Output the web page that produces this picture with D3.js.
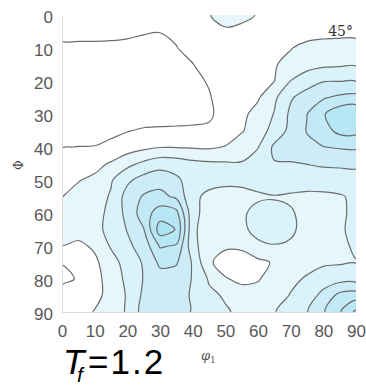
<!DOCTYPE html>
<html>
<head>
<meta charset="utf-8">
<script src="https://cdn.jsdelivr.net/npm/d3@7"></script>
<style>
  body { margin: 0; background: #ffffff; }
  svg { display: block; }
</style>
</head>
<body>
<svg id="chart" width="366" height="387"></svg>
<script>
// Sample grid of the ODF section (phi2 = 45°)
const phi1Grid = [0, 5, 10, 15, 20, 25, 30, 35, 40, 45, 50, 55, 60, 65, 70, 75, 80, 85, 90];
const PhiGrid  = [0, 5, 10, 15, 20, 25, 30, 35, 40, 45, 50, 55, 60, 65, 70, 75, 80, 85, 90];

// f(g) intensity, one row per Phi value, columns follow phi1Grid
const odfRows = [
  [1.3, 1.3, 1.3, 1.3, 1.25, 1.18, 1.15, 1.2, 1.5, 1.95, 2.4, 2.2, 1.95, 1.7, 1.6, 1.5, 1.5, 1.5, 1.5],
  [1.15, 1.15, 1.15, 1.15, 1.12, 1.05, 1.02, 1.1, 1.35, 1.75, 1.85, 1.8, 1.7, 1.65, 1.6, 1.7, 1.75, 1.75, 1.75],
  [0.9, 0.9, 0.9, 0.88, 0.85, 0.8, 0.75, 0.98, 1.2, 1.55, 1.7, 1.75, 1.75, 1.8, 1.97, 2.2, 2.3, 2.35, 2.35],
  [0.6, 0.6, 0.6, 0.6, 0.6, 0.6, 0.6, 0.8, 0.98, 1.3, 1.55, 1.7, 1.8, 1.95, 2.2, 2.6, 2.8, 2.85, 2.9],
  [0.5, 0.5, 0.5, 0.5, 0.5, 0.5, 0.5, 0.7, 0.85, 1.05, 1.4, 1.6, 1.8, 1.98, 3.02, 3.6, 3.95, 3.97, 3.97],
  [0.5, 0.5, 0.5, 0.5, 0.5, 0.5, 0.5, 0.6, 0.75, 0.95, 1.3, 1.6, 1.9, 2.8, 3.9, 4.4, 4.9, 5.2, 5.3],
  [0.5, 0.5, 0.5, 0.5, 0.5, 0.5, 0.5, 0.6, 0.7, 0.9, 1.25, 1.8, 2.3, 3.05, 4.2, 4.98, 5.9, 6.7, 6.9],
  [0.7, 0.7, 0.75, 0.8, 0.95, 1.1, 1.15, 1.15, 1.15, 1.1, 1.4, 1.9, 2.6, 3.3, 4.3, 5.05, 5.6, 6.3, 6.3],
  [0.98, 1.01, 1.02, 1.2, 1.5, 1.75, 1.95, 1.95, 1.9, 1.85, 2.05, 2.6, 2.95, 4.2, 4.4, 4.8, 4.98, 5.1, 5.15],
  [1.3, 1.45, 1.7, 2.1, 2.7, 3.2, 3.6, 3.5, 3.25, 3.15, 3.1, 3.05, 3.5, 3.95, 3.95, 4.02, 4.1, 4.15, 4.2],
  [1.65, 1.95, 2.2, 2.9, 3.8, 4.4, 4.6, 4.2, 3.5, 3.3, 3.2, 3.2, 3.4, 3.6, 3.6, 3.65, 3.65, 3.6, 3.6],
  [1.98, 2.3, 2.55, 3.1, 4.4, 5.1, 5.3, 4.8, 3.2, 2.8, 2.7, 2.75, 2.85, 2.95, 2.85, 2.7, 2.75, 2.9, 3.2],
  [2.3, 2.45, 2.65, 3.25, 4.3, 5.5, 6.5, 6.3, 3.3, 2.6, 2.4, 2.85, 3.3, 3.2, 3.1, 2.7, 2.6, 2.85, 3.2],
  [2.35, 2.4, 2.7, 3.3, 4.05, 4.95, 7.5, 6.95, 3.2, 2.5, 2.3, 2.8, 3.3, 3.25, 3.1, 2.8, 2.7, 2.9, 3.2],
  [1.98, 1.8, 2.15, 3.1, 3.8, 4.4, 6.1, 5.9, 3.3, 2.4, 2.1, 2.15, 2.8, 2.97, 2.92, 2.7, 2.65, 2.85, 3.1],
  [1.02, 1.3, 1.8, 2.6, 3.4, 4.1, 5.2, 5.1, 3.9, 2.1, 1.7, 1.6, 1.75, 2.1, 2.5, 2.7, 2.85, 2.9, 2.97],
  [0.85, 1.05, 1.6, 2.5, 3.2, 4.05, 4.6, 4.5, 3.95, 2.9, 2.05, 1.85, 1.95, 2.3, 2.8, 3.1, 3.5, 3.65, 3.6],
  [1.3, 1.4, 1.75, 2.3, 3.1, 4.2, 4.4, 4.35, 3.9, 3.2, 2.9, 2.3, 2.25, 2.6, 3.05, 3.5, 4.3, 5.3, 5.5],
  [1.5, 1.6, 2.05, 2.5, 3.1, 4.4, 4.5, 4.3, 3.95, 3.5, 3.1, 2.8, 2.6, 2.95, 3.4, 3.95, 4.9, 5.9, 7.2]
];

// Contour levels; bandFills[i] fills the area at or above contourLevels[i]
const contourLevels = [1, 2, 3, 4, 5, 6, 7];
const baseFill = "#ffffff";
const bandFills = ["#ffffff", "#e6f7fc", "#daf3fb", "#ccedf8", "#c1eaf6", "#b7e6f4", "#ade2f2"];

const phi1Ticks = [0, 10, 20, 30, 40, 50, 60, 70, 80, 90];
const PhiTicks  = [0, 10, 20, 30, 40, 50, 60, 70, 80, 90];

const svg = d3.select("#chart");
const plotL = 62, plotR = 356, plotT = 15, plotB = 312;

const x = d3.scaleLinear().domain([0, 90]).range([plotL, plotR]);
const y = d3.scaleLinear().domain([0, 90]).range([plotT, plotB]);

const nx = phi1Grid.length, ny = PhiGrid.length;
// d3.contours places sample k at grid coordinate k + 0.5
const gx = d3.scaleLinear().domain([0.5, nx - 0.5]).range([x(phi1Grid[0]), x(phi1Grid[nx - 1])]);
const gy = d3.scaleLinear().domain([0.5, ny - 0.5]).range([y(PhiGrid[0]), y(PhiGrid[ny - 1])]);

const contours = d3.contours()
  .size([nx, ny])
  .thresholds(contourLevels)(odfRows.flat());

const ringLine = d3.line().curve(d3.curveCatmullRomClosed.alpha(0.5));
function contourPath(mp) {
  let d = "";
  for (const poly of mp.coordinates) {
    for (const ring of poly) {
      const pts = ring.slice(0, -1).map(p => [gx(p[0]), gy(p[1])]);
      if (pts.length > 2) d += ringLine(pts);
    }
  }
  return d;
}

svg.append("defs").append("clipPath").attr("id", "plotClip")
  .append("rect").attr("x", plotL).attr("y", plotT)
  .attr("width", plotR - plotL).attr("height", plotB - plotT);

const plot = svg.append("g").attr("clip-path", "url(#plotClip)");
plot.append("rect").attr("x", plotL).attr("y", plotT)
  .attr("width", plotR - plotL).attr("height", plotB - plotT).attr("fill", baseFill);

plot.selectAll("path.band")
  .data(contours)
  .join("path")
  .attr("class", "band")
  .attr("d", c => contourPath(c))
  .attr("fill", (c, i) => bandFills[i])
  .attr("fill-rule", "evenodd");

plot.selectAll("path.iso")
  .data(contours)
  .join("path")
  .attr("class", "iso")
  .attr("d", c => contourPath(c))
  .attr("fill", "none")
  .attr("stroke", "#6c6c6c")
  .attr("stroke-width", 1.2)
  .attr("stroke-linejoin", "round");

// Axes
const tickFont = "'Liberation Sans', Arial, sans-serif";
const yAxis = svg.append("g").attr("transform", `translate(${plotL},0)`)
  .call(d3.axisLeft(y).tickValues(PhiTicks).tickSize(0).tickSizeOuter(0).tickPadding(9));
const xAxis = svg.append("g").attr("transform", `translate(0,${plotB})`)
  .call(d3.axisBottom(x).tickValues(phi1Ticks).tickSize(0).tickSizeOuter(0).tickPadding(13));

[yAxis, xAxis].forEach(a => {
  a.select(".domain").attr("stroke", "#dcdcdc").attr("stroke-width", 1);
  a.selectAll("text").attr("font-family", tickFont).attr("font-size", 17).attr("fill", "#585858");
});
yAxis.selectAll("text").attr("dy", "0.42em");

// Axis titles
svg.append("text")
  .attr("transform", "translate(23,165) rotate(-90)")
  .attr("text-anchor", "middle")
  .attr("font-family", "'DejaVu Serif', serif").attr("font-size", 12).attr("fill", "#444")
  .text("Φ");

const xt = svg.append("text")
  .attr("x", 201).attr("y", 360)
  .attr("font-family", "'DejaVu Serif', serif").attr("font-size", 13).attr("fill", "#555");
xt.append("tspan").attr("font-style", "italic").text("φ");
xt.append("tspan").attr("font-size", 9).attr("dy", 3).text("1");

svg.append("text")
  .attr("x", 353).attr("y", 36).attr("text-anchor", "end")
  .attr("font-family", "'DejaVu Serif', serif").attr("font-size", 14).attr("fill", "#333")
  .text("45°");

// Sample label
const label = svg.append("g").attr("font-family", "'Liberation Sans', Arial, sans-serif").attr("fill", "#000");
label.append("text").attr("x", 63).attr("y", 374).attr("font-size", 35).attr("font-style", "italic").text("T");
label.append("text").attr("x", 77).attr("y", 382).attr("font-size", 21).attr("font-style", "italic").text("f");
label.append("text").attr("x", 88).attr("y", 374).attr("font-size", 35).attr("letter-spacing", 2).text("=1.2");
</script>
</body>
</html>
